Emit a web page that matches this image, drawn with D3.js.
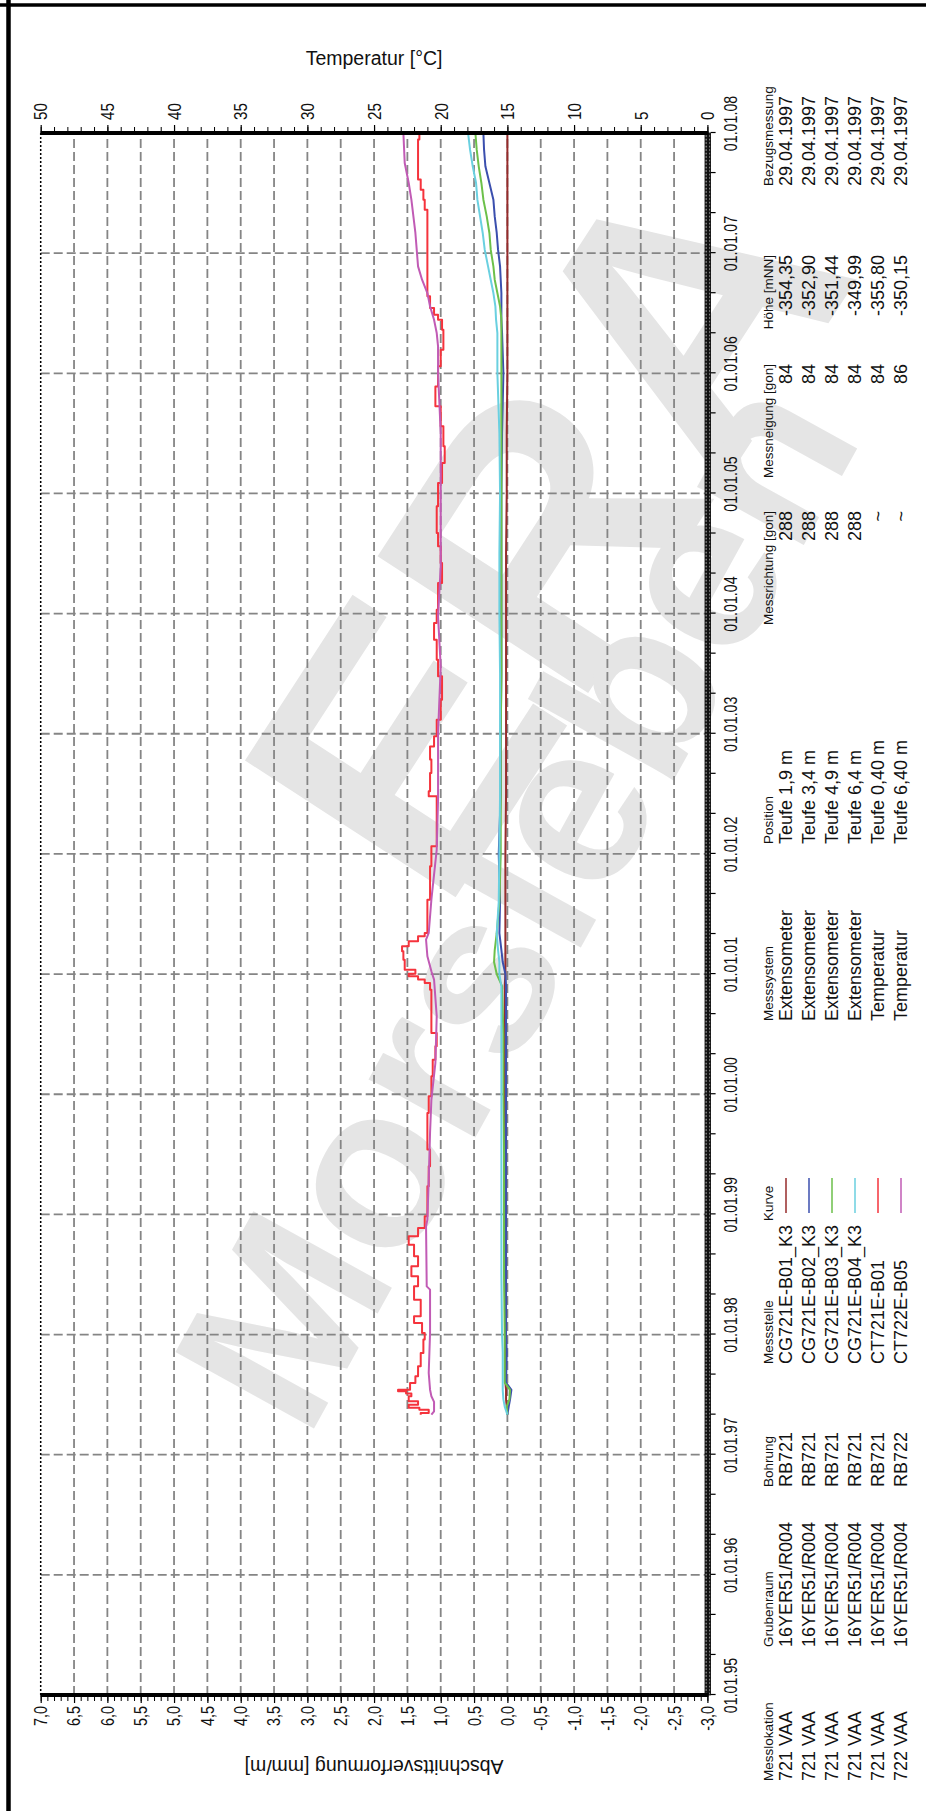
<!DOCTYPE html>
<html><head><meta charset="utf-8">
<script src="https://cdn.jsdelivr.net/npm/d3@7"></script>
<style>
html,body{margin:0;padding:0;background:#fff;}
svg{display:block;}
</style></head><body>
<svg id="chart" width="926" height="1811"></svg>
<script>
// ---------------- data ----------------
const timeTickYears = [1995,1996,1997,1998,1999,2000,2001,2002,2003,2004,2005,2006,2007,2008];
const timeTickLabels = ["01.01.95","01.01.96","01.01.97","01.01.98","01.01.99","01.01.00","01.01.01","01.01.02","01.01.03","01.01.04","01.01.05","01.01.06","01.01.07","01.01.08"];
const tempTicks = [0,5,10,15,20,25,30,35,40,45,50];
const tempTickLabels = ["0","5","10","15","20","25","30","35","40","45","50"];
const defoTicks = [-3,-2.5,-2,-1.5,-1,-0.5,0,0.5,1,1.5,2,2.5,3,3.5,4,4.5,5,5.5,6,6.5,7];
const defoTickLabels = ["-3,0","-2,5","-2,0","-1,5","-1,0","-0,5","0,0","0,5","1,0","1,5","2,0","2,5","3,0","3,5","4,0","4,5","5,0","5,5","6,0","6,5","7,0"];

// temperature CT721E-B01 (red)
const redYears = [1997.333,1997.347,1997.375,1997.39,1997.416,1997.444,1997.486,1997.51,1997.527,1997.541,1997.597,1997.652,1997.736,1997.847,1997.958,
1998.013,1998.096,1998.152,1998.29,1998.401,1998.485,1998.568,1998.651,1998.748,1998.817,1998.887,1998.984,1999.234,1999.4,1999.539,1999.705,1999.844,1999.983,2000.149,2000.288,2000.399,2000.51,2000.704,2000.87,2000.926,2000.954,2000.981,2001.003,2001.037,2001.12,2001.189,2001.231,2001.273,2001.314,2001.342,
2001.619,2001.897,2002.063,2002.23,2002.396,2002.479,2002.521,2002.674,2002.785,2002.895,2002.979,2003.117,2003.284,2003.478,2003.617,2003.783,2003.922,2004.033,2004.255,2004.421,2004.56,2004.671,
2004.893,2005.087,2005.253,2005.392,2005.559,2005.725,2005.891,2006.058,2006.197,2006.363,2006.446,2006.488,2006.543,2006.641,2006.835,2007.057,2007.279,2007.362,2007.445,2007.528,2007.612,2007.834,2007.945,2008.0];
const redValues = [21.5,20.9,21.6,22.4,21.7,22.4,22.2,22.6,23.2,22.3,21.9,21.7,21.5,21.3,21.2,
21.4,22.0,21.5,22.0,21.7,22.2,21.7,22.0,22.4,21.7,21.2,21.0,20.9,20.8,21.0,21.0,20.9,20.7,20.6,20.4,20.3,20.7,20.7,20.8,21.2,21.7,22.4,21.9,22.7,22.8,22.9,22.4,21.7,21.2,21.0,
20.8,20.7,20.3,20.3,20.3,20.9,20.8,20.7,20.8,20.5,20.3,20.0,19.9,20.2,20.3,20.5,20.3,20.2,19.9,20.0,20.2,20.3,
20.2,19.9,19.7,19.8,20.0,20.4,20.2,20.0,19.8,19.9,20.2,20.5,20.8,21.0,21.0,21.0,21.0,21.2,21.3,21.5,21.7,21.7,21.6,21.5];

// temperature CT722E-B05 (magenta)
const magYears = [1997.333,1997.36,1997.44,1997.486,1997.541,1997.68,1997.847,1998.013,1998.374,1998.401,1998.9,1998.956,1999.29,1999.68,1999.955,2000.26,2000.65,2000.954,2001.023,2001.148,2001.286,2001.342,2001.619,2002.035,2002.45,2003.006,2003.561,2003.977,2004.393,2004.671,2005.226,2005.503,2006.002,2006.224,2006.335,2006.446,2006.557,2006.668,2006.779,2006.89,2007.168,2007.445,2007.584,2007.75,2008.0];
const magValues = [20.7,20.5,20.5,20.7,20.8,20.9,20.85,20.8,20.8,21.05,21.1,21.0,20.9,20.8,20.7,20.4,20.3,20.5,20.7,21.0,21.1,20.9,20.7,20.3,20.2,20.2,20.0,20.2,20.0,20.0,20.0,20.0,20.2,20.2,20.3,20.5,20.8,21.0,21.4,21.7,21.9,22.2,22.4,22.7,22.8];

// extensometers (mm/m)
const defoYears = [1997.333,1997.4,1997.46,1997.54,1997.6,1997.85,1998.0,1998.5,1999.0,1999.5,2000.0,2000.5,2000.9,2001.0,2001.1,2001.2,2001.34,2001.6,2002.0,2002.5,2003.0,2003.5,2004.0,2004.5,2005.0,2005.5,2006.0,2006.335,2006.446,2006.557,2006.668,2006.779,2006.89,2007.029,2007.168,2007.306,2007.445,2007.584,2007.723,2007.861,2008.0];
const defoB01 = [0,0.01,0.02,0.02,0.03,0.03, 0.03,0.04,0.04,0.04,0.04,0.04, 0.04,0.03,0.03,0.03,0.03, 0.03,0.03,0.02,0.02,0.02,0.02,0.02,0.01,0.01,0.0, 0,0,0,0,0,0, 0,0,0,0,0,0,0,0];
const defoB02 = [0,-0.02,-0.04,-0.06,0.02,0.01, 0.02,0.02,0.02,0.02,0.02,0.02, 0.02,0.03,0.07,0.09,0.12, 0.11,0.13,0.1,0.1,0.09,0.09,0.09,0.09,0.08,0.06, 0.08,0.09,0.09,0.09,0.10,0.11, 0.14,0.16,0.19,0.21,0.27,0.33,0.35,0.36];
const defoB03 = [0,0.01,-0.03,-0.04,0.04,0.04, 0.04,0.05,0.05,0.05,0.06,0.06, 0.08,0.16,0.2,0.19,0.16, 0.12,0.1,0.1,0.1,0.09,0.09,0.09,0.09,0.09,0.09, 0.09,0.09,0.11,0.15,0.19,0.21, 0.25,0.27,0.31,0.36,0.39,0.43,0.46,0.48];
const defoB04 = [0,0.04,0.06,0.07,0.07,0.07, 0.08,0.09,0.09,0.09,0.09,0.09, 0.09,0.12,0.12,0.14,0.16, 0.13,0.12,0.11,0.11,0.11,0.12,0.12,0.11,0.12,0.15, 0.15,0.17,0.18,0.21,0.25,0.29, 0.34,0.37,0.41,0.45,0.47,0.52,0.56,0.59];

const seriesColors = ["#962b2b","#3b4fae","#6cc04a","#6ad0e0","#f5333c","#c15bb5"];

// legend table
const messlokation = ["721 VAA","721 VAA","721 VAA","721 VAA","721 VAA","722 VAA"];
const grubenraum = ["16YER51/R004","16YER51/R004","16YER51/R004","16YER51/R004","16YER51/R004","16YER51/R004"];
const bohrung = ["RB721","RB721","RB721","RB721","RB721","RB722"];
const messstelle = ["CG721E-B01_K3","CG721E-B02_K3","CG721E-B03_K3","CG721E-B04_K3","CT721E-B01","CT722E-B05"];
const messsystem = ["Extensometer","Extensometer","Extensometer","Extensometer","Temperatur","Temperatur"];
const position = ["Teufe 1,9 m","Teufe 3,4 m","Teufe 4,9 m","Teufe 6,4 m","Teufe 0,40 m","Teufe 6,40 m"];
const messrichtung = ["288","288","288","288","~","~"];
const messneigung = ["84","84","84","84","84","86"];
const hoehe = ["-354,35","-352,90","-351,44","-349,99","-355,80","-350,15"];
const bezugsmessung = ["29.04.1997","29.04.1997","29.04.1997","29.04.1997","29.04.1997","29.04.1997"];

// ---------------- drawing ----------------
const FONT = "'Liberation Sans', Arial, Helvetica, sans-serif";
const OW = 1811;
const svg = d3.select("#chart");
svg.append("rect").attr("width",926).attr("height",1811).attr("fill","#fff");

// watermark (screen coordinates)
const wm = svg.append("g").attr("fill","#e5e5e5").attr("font-family",FONT).attr("font-weight","bold");
wm.append("text").attr("transform","translate(545,525) rotate(-57)").attr("text-anchor","middle")
  .attr("font-size",365).attr("dy","0.35em").text("ERA");
wm.append("text").attr("transform","translate(515,900) rotate(-61)").attr("text-anchor","middle")
  .attr("font-size",230).attr("dy","0.35em").text("Morsleben");

// chart drawn in its original orientation, then rotated
const g = svg.append("g").attr("transform",`translate(0,${OW}) rotate(-90)`).attr("font-family",FONT);

const X0 = 116, X1 = 1678, Y0 = 40.7, Y1 = 707.4;
const x = d3.scaleLinear().domain([timeTickYears[0], timeTickYears[timeTickYears.length-1]]).range([X0, X1]);
const yDefo = d3.scaleLinear().domain([defoTicks[0], defoTicks[defoTicks.length-1]]).range([Y1, Y0]);
const yTemp = d3.scaleLinear().domain([tempTicks[0], tempTicks[tempTicks.length-1]]).range([Y1, Y0]);

// grid
const grid = g.append("g").attr("stroke","#858585").attr("stroke-width",1.8).attr("stroke-dasharray","9,4");
grid.selectAll("line.h").data(defoTicks.slice(1,-1)).join("line").attr("class","h")
  .attr("x1",X0).attr("x2",X1).attr("y1",d=>yDefo(d)).attr("y2",d=>yDefo(d));
grid.selectAll("line.v").data(timeTickYears.slice(1,-1)).join("line").attr("class","v")
  .attr("x1",d=>x(d)).attr("x2",d=>x(d)).attr("y1",Y0).attr("y2",Y1);

// top (original) border dotted
g.append("line").attr("x1",X0).attr("x2",X1).attr("y1",Y0).attr("y2",Y0)
  .attr("stroke","#000").attr("stroke-width",1.5).attr("stroke-dasharray","2,2");

// curves
const defoSeries = [defoB01, defoB02, defoB03, defoB04];
const curves = g.append("g").attr("fill","none").attr("stroke-width",2).attr("stroke-linejoin","round");
defoSeries.forEach((vals,k)=>{
  curves.append("path").datum(vals.map((v,i)=>[defoYears[i], v]))
    .attr("stroke",seriesColors[k])
    .attr("d", d3.line().x(d=>x(d[0])).y(d=>yDefo(d[1])));
});
curves.append("path").datum(redValues.map((v,i)=>[redYears[i], v]))
  .attr("stroke",seriesColors[4]).attr("d", d3.line().curve(d3.curveStepAfter).x(d=>x(d[0])).y(d=>yTemp(d[1])));
curves.append("path").datum(magValues.map((v,i)=>[magYears[i], v]))
  .attr("stroke",seriesColors[5]).attr("d", d3.line().x(d=>x(d[0])).y(d=>yTemp(d[1])));

// ---- time axis (original bottom) ----
const defs = svg.append("defs");
const pat = defs.append("pattern").attr("id","ladder").attr("patternUnits","userSpaceOnUse")
  .attr("width",3.5).attr("height",6);
pat.append("rect").attr("width",3.5).attr("height",6).attr("fill","#111");
pat.append("rect").attr("x",1.2).attr("y",1).attr("width",1.6).attr("height",4).attr("fill","#8a8a8a");
g.append("rect").attr("x",X0).attr("y",705).attr("width",X1-X0).attr("height",5.6)
  .attr("fill","url(#ladder)").attr("stroke","#000").attr("stroke-width",0.8);

const thirds = timeTickYears.flatMap((t,i)=> i < timeTickYears.length-1 ? [t, t+1/3, t+2/3] : [t]);
const tMinor = g.append("g").attr("transform",`translate(0,710.6)`)
  .call(d3.axisBottom(x).tickValues(thirds).tickSize(5).tickFormat(""));
tMinor.select(".domain").remove();
tMinor.selectAll("line").attr("stroke","#000").attr("stroke-width",1.2);

const tLab = g.append("g").attr("transform",`translate(0,737)`)
  .call(d3.axisBottom(x).tickValues(timeTickYears).tickSize(0).tickFormat((d,i)=>timeTickLabels[i]));
tLab.select(".domain").remove();
tLab.selectAll("text").attr("y",null).attr("dy",null).attr("fill","#111")
  .attr("font-family",FONT).attr("font-size",19)
  .attr("transform","translate(9,0) scale(0.75,1)");

// ---- deformation axis (original left) ----
g.append("line").attr("x1",X0).attr("x2",X0).attr("y1",Y0).attr("y2",Y1+1)
  .attr("stroke","#000").attr("stroke-width",4.2);
const defoMinor = defoTicks.slice(0,-1).flatMap(d=>[0,1,2,3,4].map(k=>d+k*0.1)).concat([defoTicks[defoTicks.length-1]]);
const dMinor = g.append("g").attr("transform",`translate(${X0},0)`)
  .call(d3.axisLeft(yDefo).tickValues(defoMinor).tickSize(6).tickFormat(""));
dMinor.select(".domain").remove();
dMinor.selectAll("line").attr("stroke","#000").attr("stroke-width",1);
const dMajor = g.append("g").attr("transform",`translate(${X0},0)`)
  .call(d3.axisLeft(yDefo).tickValues(defoTicks).tickSize(8).tickPadding(3).tickFormat((d,i)=>defoTickLabels[i]));
dMajor.select(".domain").remove();
dMajor.selectAll("line").attr("stroke","#000").attr("stroke-width",1.2);
dMajor.selectAll("text").attr("x",null).attr("dy","0.33em").attr("fill","#111")
  .attr("font-family",FONT).attr("font-size",18)
  .attr("transform","translate(-11,0) scale(0.8,1)");

// ---- temperature axis (original right) ----
g.append("line").attr("x1",X1).attr("x2",X1).attr("y1",Y0).attr("y2",Y1+1)
  .attr("stroke","#000").attr("stroke-width",4.2);
const tempMinor = d3.range(tempTicks[0], tempTicks[tempTicks.length-1]+1, 1);
const tmpMinor = g.append("g").attr("transform",`translate(${X1},0)`)
  .call(d3.axisRight(yTemp).tickValues(tempMinor).tickSize(6).tickFormat(""));
tmpMinor.select(".domain").remove();
tmpMinor.selectAll("line").attr("stroke","#000").attr("stroke-width",1);
const tmpMajor = g.append("g").attr("transform",`translate(${X1},0)`)
  .call(d3.axisRight(yTemp).tickValues(tempTicks).tickSize(8).tickPadding(5).tickFormat((d,i)=>tempTickLabels[i]));
tmpMajor.select(".domain").remove();
tmpMajor.selectAll("line").attr("stroke","#000").attr("stroke-width",1.2);
tmpMajor.selectAll("text").attr("x",null).attr("dy","0.33em").attr("fill","#111")
  .attr("font-family",FONT).attr("font-size",19)
  .attr("transform","translate(13,0) scale(0.8,1)");

// ---- axis titles ----
g.append("text").attr("transform",`translate(1753,${(Y0+Y1)/2}) rotate(90)`)
  .attr("text-anchor","middle").attr("dy","0.35em").attr("font-size",19.5).attr("fill","#111")
  .text("Temperatur [°C]");
g.append("text").attr("transform",`translate(44,${(Y0+Y1)/2}) rotate(-90)`)
  .attr("text-anchor","middle").attr("dy","0.35em").attr("font-size",19.5).attr("fill","#111")
  .text("Abschnittsverformung [mm/m]");

// ---- legend table ----
const rowY = [792,815,838,861,884,907];
const headY = 773;
const leg = g.append("g").attr("fill","#111");
function column(header, values, xPos, anchor){
  leg.append("text").attr("x",xPos).attr("y",headY).attr("font-size",13.5)
    .attr("text-anchor",anchor).text(header);
  leg.selectAll(null).data(values).join("text")
    .attr("x",xPos).attr("y",(d,i)=>rowY[i]).attr("font-size",18)
    .attr("text-anchor",anchor).text(d=>d);
}
column("Messlokation", messlokation, 30, "start");
column("Grubenraum", grubenraum, 164, "start");
column("Bohrung", bohrung, 324, "start");
column("Messstelle", messstelle, 447, "start");
column("Messsystem", messsystem, 790, "start");
column("Position", position, 967, "start");
column("Messrichtung [gon]", messrichtung, 1300, "end");
column("Messneigung [gon]", messneigung, 1447, "end");
column("Höhe [mNN]", hoehe, 1556, "end");
column("Bezugsmessung", bezugsmessung, 1625, "start");
// Kurve column
leg.append("text").attr("x",590).attr("y",headY).attr("font-size",13.5).text("Kurve");
leg.selectAll("line.kurve").data(seriesColors).join("line").attr("class","kurve")
  .attr("x1",598).attr("x2",633).attr("y1",(d,i)=>rowY[i]-6).attr("y2",(d,i)=>rowY[i]-6)
  .attr("stroke",d=>d).attr("stroke-width",2).attr("opacity",0.75);

// ---- outer frame ----
svg.append("line").attr("x1",8.5).attr("x2",8.5).attr("y1",0).attr("y2",1811).attr("stroke","#000").attr("stroke-width",4.5);
svg.append("line").attr("x1",0).attr("x2",926).attr("y1",5).attr("y2",5).attr("stroke","#000").attr("stroke-width",3.5);
</script>
</body></html>
